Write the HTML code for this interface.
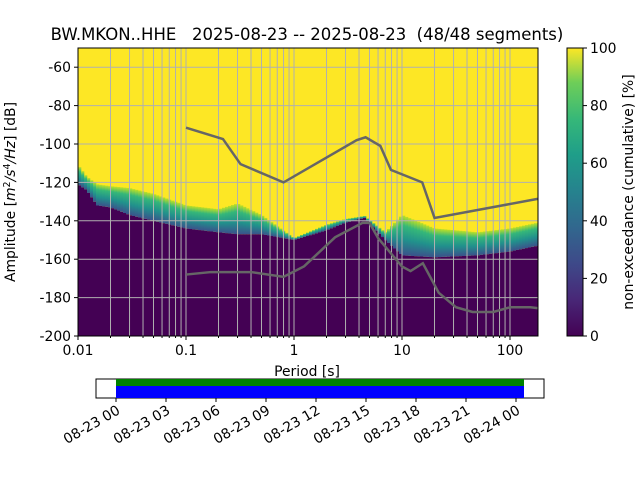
<!DOCTYPE html>
<html><head><meta charset="utf-8"><style>
body{margin:0;background:#fff;width:640px;height:480px;overflow:hidden;font-family:"DejaVu Sans","Liberation Sans",sans-serif}
</style></head><body>
<svg id="chart" width="640" height="480" xmlns="http://www.w3.org/2000/svg" font-family="DejaVu Sans, Liberation Sans, sans-serif">
<defs>
<linearGradient id="band" x1="0" y1="1" x2="0" y2="0">
<stop offset="0" stop-color="#3b528b"/><stop offset="0.4" stop-color="#21918c"/><stop offset="0.75" stop-color="#35b779"/><stop offset="1" stop-color="#bddf26"/>
</linearGradient>
<linearGradient id="viridis" x1="0" y1="1" x2="0" y2="0">
<stop offset="0" stop-color="#440154"/><stop offset="0.13" stop-color="#482878"/><stop offset="0.25" stop-color="#3e4989"/><stop offset="0.38" stop-color="#31688e"/><stop offset="0.5" stop-color="#26828e"/><stop offset="0.63" stop-color="#1f9e89"/><stop offset="0.75" stop-color="#35b779"/><stop offset="0.88" stop-color="#6ece58"/><stop offset="1" stop-color="#fde725"/>
</linearGradient>
<clipPath id="plotclip"><rect x="78" y="48" width="460" height="288"/></clipPath>
</defs>
<text x="307" y="40" font-size="16.5" text-anchor="middle" xml:space="preserve" style="white-space:pre">BW.MKON..HHE   2025-08-23 -- 2025-08-23  (48/48 segments)</text>
<g id="plot" clip-path="url(#plotclip)"></g>
<g id="grid" clip-path="url(#plotclip)"></g>
<g id="models" clip-path="url(#plotclip)"></g>
<rect x="78" y="48" width="460" height="288" fill="none" stroke="#000" stroke-width="1"/>
<g id="axes"></g>
<text x="307" y="376" font-size="13.9" text-anchor="middle">Period [s]</text>
<text transform="translate(15,192) rotate(-90)" font-size="13.9" text-anchor="middle">Amplitude [<tspan font-style="italic">m</tspan><tspan font-size="9.5" dy="-5">2</tspan><tspan dy="5" font-style="italic">/s</tspan><tspan font-size="9.5" dy="-5">4</tspan><tspan dy="5" font-style="italic">/Hz</tspan>] [dB]</text>
<rect x="567" y="48" width="16" height="288" fill="url(#viridis)" stroke="#000" stroke-width="1"/>
<g id="cbar"></g>
<text transform="translate(633,192) rotate(-90)" font-size="13.9" text-anchor="middle">non-exceedance (cumulative) [%]</text>
<rect x="96" y="379" width="448" height="19" fill="#fff" stroke="#000"/>
<rect x="116" y="379" width="408" height="7" fill="#008000"/>
<rect x="116" y="386" width="408" height="12" fill="#0000ff"/>
<g id="time"></g>
</svg>
<script>
const periods=[0.01,0.012,0.015,0.02,0.03,0.05,0.1,0.2,0.3,0.5,1,2,3,4.5,7,10,20,50,100,180];
const lowDb =[-121,-124,-132,-133,-137,-140,-144,-146,-147,-147,-150,-145,-141,-138.5,-150,-158,-159,-158,-156,-153];
const highDb=[-111,-117,-121,-122,-123,-126,-132,-134,-131,-137,-149,-142,-139,-137.5,-146,-137,-144,-146,-144,-141];
const nhnmP=[0.1,0.22,0.32,0.8,3.8,4.6,6.3,7.9,15.4,20,180];
const nhnmDb=[-91.5,-97.4,-110.5,-120,-98,-96.5,-101,-113.5,-120,-138.5,-128.6];
const nlnmP=[0.1,0.17,0.4,0.8,1.24,2.4,4.3,5,6,10,12,15.6,21.9,31.6,45,70,101,154,180];
const nlnmDb=[-168,-166.7,-166.7,-169.2,-163.7,-148.6,-141.1,-141.1,-149,-163.8,-166.2,-162.1,-177.5,-185,-187.5,-187.5,-185,-185,-185.5];
const yTicks=[-60,-80,-100,-120,-140,-160,-180,-200];
const xTicks=[0.01,0.1,1,10,100];
const xTickLabels=["0.01","0.1","1","10","100"];
const cTicks=[0,20,40,60,80,100];
const timeLabels=["08-23 00","08-23 03","08-23 06","08-23 09","08-23 12","08-23 15","08-23 18","08-23 21","08-24 00"];
const timeHours=[0,3,6,9,12,15,18,21,24];
const NS="http://www.w3.org/2000/svg";
const X=p=>78+108*(Math.log10(p)+2);
const Y=d=>336-(d+200)*1.92;
const TX=h=>116+h*(400/24);
function mk(tag,attrs,parent){const e=document.createElementNS(NS,tag);for(const k in attrs)e.setAttribute(k,attrs[k]);parent.appendChild(e);return e;}
function interp(xs,ys,x){const lx=Math.log10(x);if(x<=xs[0])return ys[0];for(let i=1;i<xs.length;i++){if(x<=xs[i]){const a=Math.log10(xs[i-1]),b=Math.log10(xs[i]);const t=(lx-a)/(b-a);return ys[i-1]+t*(ys[i]-ys[i-1]);}}return ys[ys.length-1];}
const plot=document.getElementById('plot');
const bg=mk('rect',{x:78,y:48,width:460,height:288,fill:'#fde725'},plot);


for(let px=78;px<538;px+=3){
  const p=Math.pow(10,(px+1.5-78)/108-2);
  const lo=interp(periods,lowDb,p),hi=interp(periods,highDb,p);
  const r1=mk('rect',{x:px,y:Y(lo),width:3.3,height:336-Y(lo),fill:'#440154'},plot);
  
  
  const h=Y(lo)-Y(hi);
  if(h>0.5){const r2=mk('rect',{x:px,y:Y(hi),width:3.3,height:h,fill:'url(#band)'},plot);
  
  }
}
const grid=document.getElementById('grid');
for(let d=-2;d<=2;d++)for(let m=1;m<=9;m++){const p=m*Math.pow(10,d);const x=X(p);if(x>538)continue;
  const l=mk('line',{x1:x,x2:x,y1:48,y2:336,stroke:'#b0b0b0','stroke-width':1},grid);
  
  }
yTicks.forEach(t=>{const l=mk('line',{x1:78,x2:538,y1:Y(t),y2:Y(t),stroke:'#b0b0b0','stroke-width':1},grid);
  
  });
const models=document.getElementById('models');
const hp=mk('polyline',{points:nhnmP.map((p,i)=>X(p)+','+Y(nhnmDb[i])).join(' '),fill:'none',stroke:'#666','stroke-width':2.5},models);


const lp=mk('polyline',{points:nlnmP.map((p,i)=>X(p)+','+Y(nlnmDb[i])).join(' '),fill:'none',stroke:'#666','stroke-width':2.5},models);


const axes=document.getElementById('axes');
yTicks.forEach(t=>{mk('line',{x1:74,x2:78,y1:Y(t),y2:Y(t),stroke:'#000'},axes);
  const tx=mk('text',{x:71,y:Y(t)+5,'font-size':13.9,'text-anchor':'end'},axes);tx.textContent=t;
  
  });
xTicks.forEach((t,i)=>{mk('line',{x1:X(t),x2:X(t),y1:336,y2:340,stroke:'#000'},axes);
  const tx=mk('text',{x:X(t),y:355,'font-size':13.9,'text-anchor':'middle'},axes);tx.textContent=xTickLabels[i];
  
  });
for(let d=-2;d<=2;d++)for(let m=2;m<=9;m++){const x=X(m*Math.pow(10,d));if(x>538)continue;mk('line',{x1:x,x2:x,y1:336,y2:338,stroke:'#000'},axes);}
const cb=document.getElementById('cbar');
cTicks.forEach(t=>{const y=336-t*2.88;mk('line',{x1:583,x2:587,y1:y,y2:y,stroke:'#000'},cb);
  const tx=mk('text',{x:590,y:y+5,'font-size':13.9},cb);tx.textContent=t;
  
  });
const tg=document.getElementById('time');
timeHours.forEach((h,i)=>{const x=TX(h);mk('line',{x1:x,x2:x,y1:398,y2:402,stroke:'#000'},tg);
  const tx=mk('text',{x:0,y:0,'font-size':13.9,'text-anchor':'end',transform:`translate(${x+5},${413}) rotate(-30)`},tg);tx.textContent=timeLabels[i];
  
  });
</script>
</body></html>
